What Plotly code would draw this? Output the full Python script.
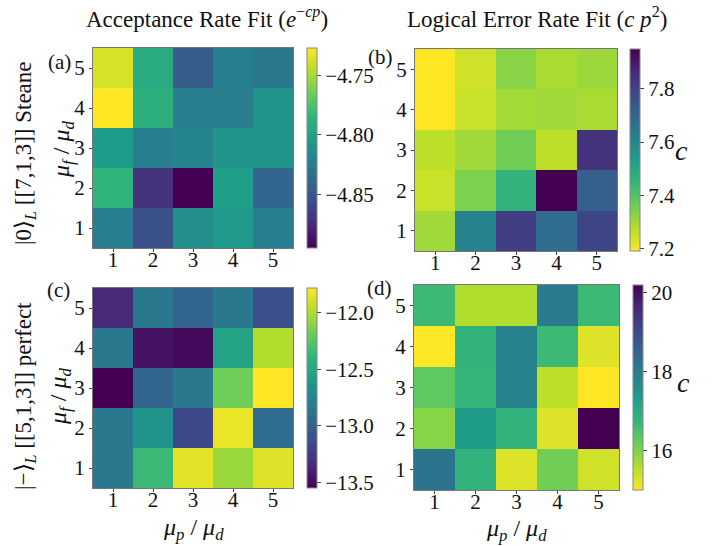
import plotly.graph_objects as go

# Ratios
mu_p = [1, 2, 3, 4, 5]
mu_f = [1, 2, 3, 4, 5]

# Values listed from top row (mu_f = 5) down to bottom row (mu_f = 1)
acc_steane = [
    [-4.737, -4.792, -4.845, -4.824, -4.828],
    [-4.727, -4.790, -4.824, -4.824, -4.808],
    [-4.803, -4.824, -4.819, -4.808, -4.808],
    [-4.786, -4.870, -4.895, -4.801, -4.840],
    [-4.824, -4.853, -4.811, -4.804, -4.824],
]
ler_steane = [
    [7.19, 7.243, 7.327, 7.289, 7.304],
    [7.19, 7.250, 7.296, 7.300, 7.289],
    [7.266, 7.300, 7.357, 7.266, 7.840],
    [7.250, 7.342, 7.456, 7.950, 7.720],
    [7.300, 7.608, 7.810, 7.684, 7.790],
]
acc_perfect = [
    [-13.34, -12.84, -12.97, -12.84, -13.11],
    [-12.84, -13.46, -13.51, -12.52, -11.99],
    [-13.55, -12.98, -12.84, -12.17, -11.78],
    [-12.84, -12.63, -13.16, -11.83, -12.93],
    [-12.84, -12.35, -11.85, -12.05, -11.87],
]
ler_perfect = [
    [16.66, 15.62, 15.62, 18.02, 16.66],
    [15.02, 16.82, 17.86, 16.66, 15.26],
    [16.30, 16.77, 17.86, 15.52, 15.00],
    [15.94, 17.34, 16.82, 15.26, 20.20],
    [18.22, 16.82, 15.26, 16.14, 15.36],
]

ticks_a = [-4.85, -4.80, -4.75]
ticks_b = [7.2, 7.4, 7.6, 7.8]
ticks_c = [-13.5, -13.0, -12.5, -12.0]
ticks_d = [16, 18, 20]

W, H = 716, 546
FONT = "Liberation Serif"
TICK = 21

def fx(px):
    return px / W

def fy(py):
    return 1 - py / H

def fmt(v, nd):
    s = f"{abs(v):.{nd}f}"
    return ("\u2212" + s) if v < 0 else s

panels = [
    (acc_steane, (93, 293), (48, 248), -4.895, -4.727, False, 307, 48, 200, ticks_a, 2),
    (ler_steane, (415, 617), (49, 251), 7.19, 7.95, True, 630, 49, 202, ticks_b, 1),
    (acc_perfect, (93, 293), (288, 488), -13.55, -11.78, False, 307, 288, 200, ticks_c, 1),
    (ler_perfect, (414, 619), (285, 490), 15.0, 20.2, True, 633, 285, 205, ticks_d, 0),
]

fig = go.Figure()
layout_axes = {}
for i, (z, xb, yb, zmin, zmax, rev, cbx, cbt, cbl, tks, nd) in enumerate(panels):
    n = i + 1
    xa = "x" if n == 1 else f"x{n}"
    ya = "y" if n == 1 else f"y{n}"
    zz = list(reversed(z))
    fig.add_trace(go.Heatmap(
        z=zz, x=mu_p, y=mu_f, xaxis=xa, yaxis=ya,
        colorscale="Viridis", reversescale=rev, zmin=zmin, zmax=zmax,
        colorbar=dict(
            x=fx(cbx), xanchor="left", xref="paper",
            y=fy(cbt), yanchor="top", yref="paper",
            len=cbl, lenmode="pixels", thickness=10, thicknessmode="pixels",
            xpad=0, ypad=0, outlinewidth=1, outlinecolor="#888",
            tickvals=tks, ticktext=[fmt(t, nd) for t in tks],
            ticks="outside", ticklen=4, tickcolor="#444",
            tickfont=dict(family=FONT, size=TICK, color="#111"),
        ),
        hoverinfo="skip",
    ))
    xkey = "xaxis" if n == 1 else f"xaxis{n}"
    ykey = "yaxis" if n == 1 else f"yaxis{n}"
    layout_axes[xkey] = dict(
        domain=[fx(xb[0]), fx(xb[1])], anchor=ya, range=[0.5, 5.5],
        tickvals=mu_p, ticks="outside", ticklen=3, tickcolor="#444",
        ticklabelstandoff=-10,
        showline=True, mirror=True, linecolor="#777", linewidth=1,
        showgrid=False, zeroline=False,
        tickfont=dict(family=FONT, size=TICK, color="#111"),
    )
    layout_axes[ykey] = dict(
        domain=[fy(yb[1]), fy(yb[0])], anchor=xa, range=[0.5, 5.5],
        tickvals=mu_f, ticks="outside", ticklen=3, tickcolor="#444",
        showline=True, mirror=True, linecolor="#777", linewidth=1,
        showgrid=False, zeroline=False,
        tickfont=dict(family=FONT, size=TICK, color="#111"),
    )

def ann(text, x, y, size, angle=0):
    return dict(text=text, x=fx(x), y=fy(y), xref="paper", yref="paper",
                showarrow=False, textangle=angle, xanchor="center", yanchor="middle",
                font=dict(family=FONT, size=size, color="#111"))

annotations = [
    ann("Acceptance Rate Fit (<i>e</i><sup>\u2212<i>cp</i></sup>)", 207, 17, 23),
    ann("Logical Error Rate Fit (<i>c p</i><sup>2</sup>)", 537, 17, 23),
    ann("|0\u27e9<sub><i>L</i></sub> [[7,1,3]] Steane", 25, 153, 23, angle=-90),
    ann("|\u2212\u27e9<sub><i>L</i></sub> [[5,1,3]] perfect", 25, 396, 23, angle=-90),
    ann("<i>\u03bc<sub>f</sub></i> / <i>\u03bc<sub>d</sub></i>", 63, 150, 24, angle=-90),
    ann("<i>\u03bc<sub>f</sub></i> / <i>\u03bc<sub>d</sub></i>", 60, 396, 24, angle=-90),
    ann("<i>\u03bc<sub>p</sub></i> / <i>\u03bc<sub>d</sub></i>", 193, 529, 24),
    ann("<i>\u03bc<sub>p</sub></i> / <i>\u03bc<sub>d</sub></i>", 516, 530, 24),
    ann("(a)", 60, 62, 21),
    ann("(b)", 381, 57, 21),
    ann("(c)", 58, 290, 21),
    ann("(d)", 379, 288, 21),
    ann("<i>c</i>", 681, 150, 28),
    ann("<i>c</i>", 683, 382, 28),
]

fig.update_layout(
    width=W, height=H, margin=dict(l=0, r=0, t=0, b=0),
    paper_bgcolor="white", plot_bgcolor="white",
    font=dict(family=FONT, color="#111"),
    annotations=annotations,
    **layout_axes,
)

fig.write_html("out.html")
